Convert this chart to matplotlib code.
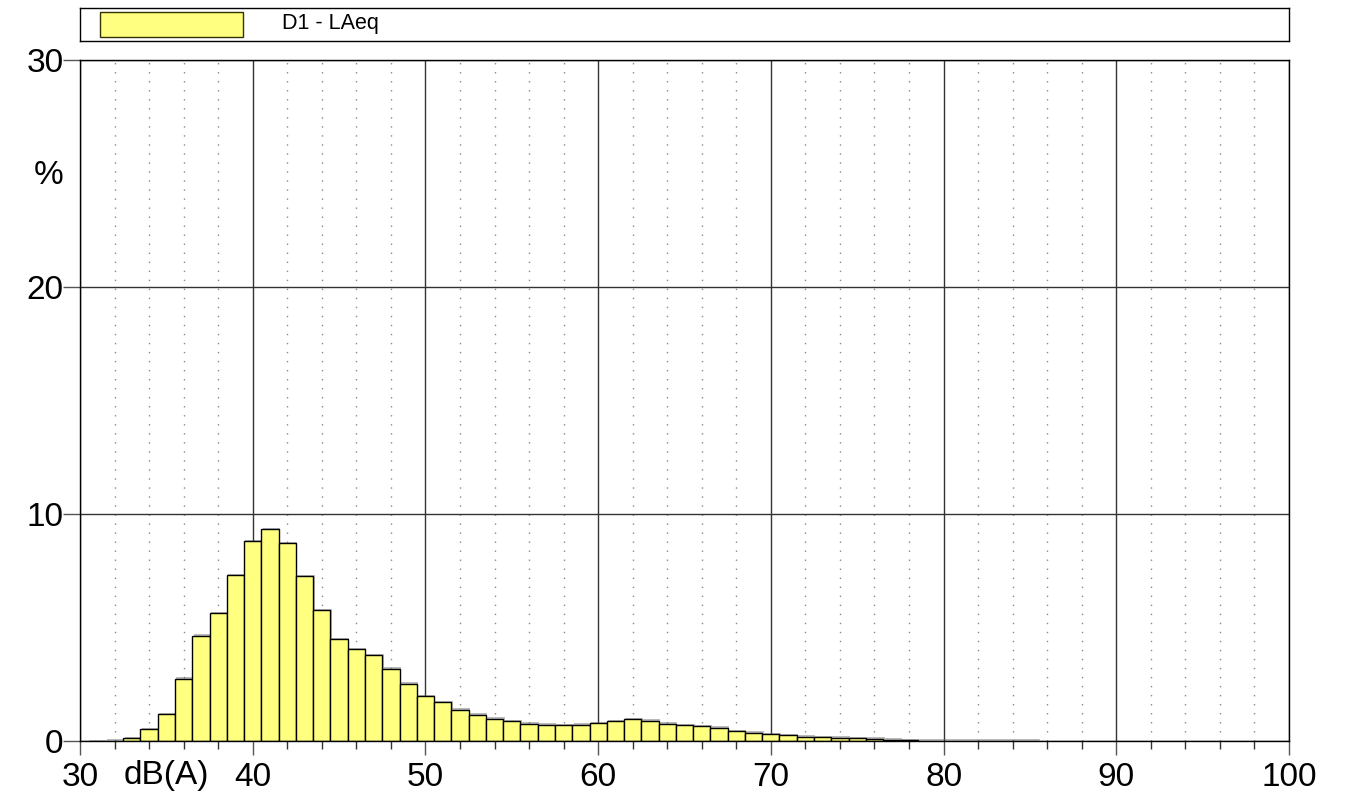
import matplotlib
matplotlib.use("Agg")
import matplotlib.pyplot as plt
import matplotlib.patheffects as pe
from matplotlib.patches import Rectangle

plt.rcParams['font.family'] = ['Liberation Sans', 'DejaVu Sans']

# Level classes (dB(A), 1 dB bins centred on integers) and share of time (%)
levels = list(range(31, 86))
shares = [0.0, 0.02, 0.12, 0.53, 1.17, 2.75, 4.64, 5.64, 7.30, 8.81,
          9.32, 8.71, 7.27, 5.77, 4.49, 4.04, 3.79, 3.19, 2.53, 1.97,
          1.70, 1.38, 1.16, 0.98, 0.87, 0.76, 0.72, 0.69, 0.72, 0.78,
          0.88, 0.95, 0.90, 0.76, 0.69, 0.66, 0.59, 0.44, 0.37, 0.29,
          0.25, 0.19, 0.18, 0.15, 0.12, 0.10, 0.06, 0.04, 0.02, 0.01,
          0.01, 0.01, 0.005, 0.005, 0.005]

series_label = "D1 - LAeq"
x_ticks = [30, 40, 50, 60, 70, 80, 90, 100]
y_ticks = [0, 10, 20, 30]
bar_color = "#FFFF80"
label_size = 24

fig = plt.figure(figsize=(13.47, 7.98), dpi=100)
ax = fig.add_axes([80 / 1347, 1 - 741 / 798, 1209 / 1347, 681 / 798])

bars = ax.bar(levels, shares, width=1.0, color=bar_color, edgecolor="black",
              linewidth=1.0, zorder=3)
for b in bars:
    b.set_path_effects([pe.SimplePatchShadow(offset=(1, 1), shadow_rgbFace="#666666", alpha=0.45),
                        pe.Normal()])

ax.set_xlim(30, 100)
ax.set_ylim(0, 30)

# major grid
ax.set_xticks(x_ticks)
ax.set_yticks(y_ticks)
ax.set_xticks([v for v in range(30, 101, 2) if v % 10], minor=True)
ax.grid(True, which="major", color="#333333", linewidth=1.0, zorder=1)
# dotted vertical minor grid
for v in range(30, 101, 2):
    if v % 10:
        ax.axvline(v, color="#888888", linewidth=1.0, linestyle=(0, (1, 5.5)), zorder=1)

ax.tick_params(axis="x", which="major", length=10, width=1.0, color="#555555",
               labelsize=label_size, pad=5)
ax.tick_params(axis="x", which="minor", length=6, width=1.0, color="#333333")
ax.tick_params(axis="y", which="major", length=12, width=1.0, color="#555555",
               labelsize=label_size, pad=0)
for s in ax.spines.values():
    s.set_color("black")
    s.set_linewidth(1.0)
    s.set_zorder(4)

ax.text(35, -1.5, "dB(A)", ha="center", va="center", fontsize=label_size,
        transform=ax.transData, clip_on=False)
fig.text(49 / 1347, 1 - 176 / 798, "%", ha="center", va="center", fontsize=label_size)

# legend strip above the plot
leg_ax = fig.add_axes([80 / 1347, 1 - 41 / 798, 1209 / 1347, 33 / 798])
leg_ax.set_xlim(0, 1209)
leg_ax.set_ylim(33, 0)
leg_ax.set_xticks([])
leg_ax.set_yticks([])
for s in leg_ax.spines.values():
    s.set_linewidth(1.0)
leg_ax.add_patch(Rectangle((20, 4), 143, 25, facecolor=bar_color,
                           edgecolor="#333300", linewidth=1.0))
leg_ax.text(202, 15, series_label, ha="left", va="center", fontsize=15.5)

fig.savefig("out.png", dpi=100)
